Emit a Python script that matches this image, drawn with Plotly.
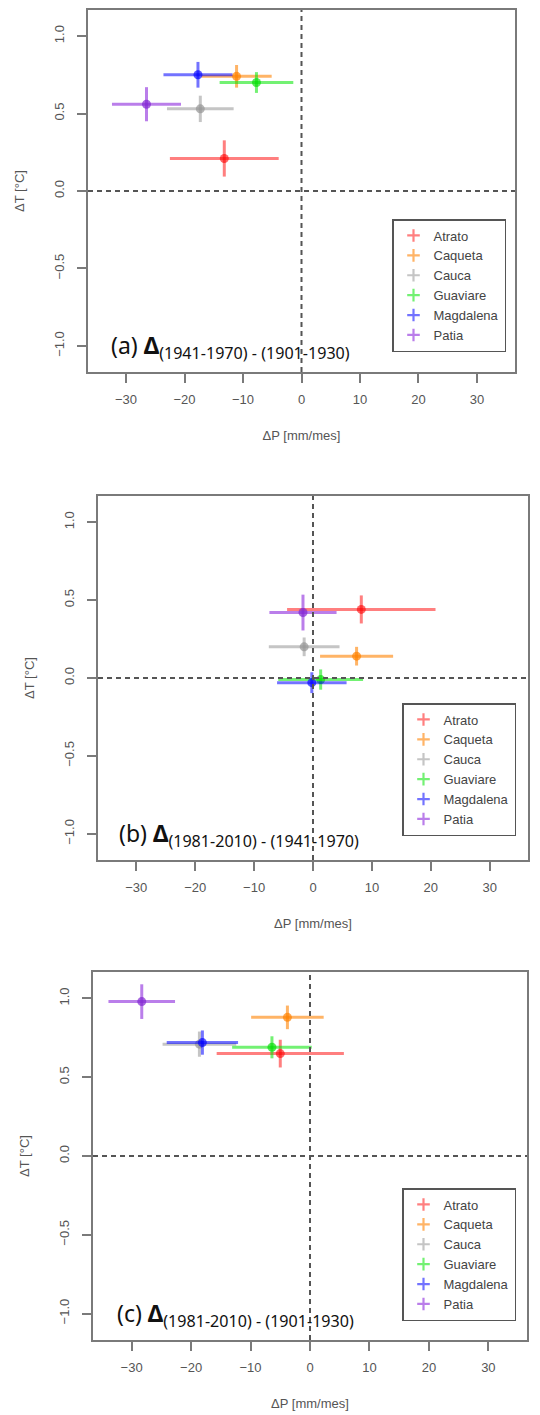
import plotly.graph_objects as go

W, H = 540, 1415

basins = ["Atrato", "Caqueta", "Cauca", "Guaviare", "Magdalena", "Patia"]
colors = ["rgba(255,0,0,0.5)", "rgba(255,130,0,0.6)", "rgba(150,150,150,0.55)",
          "rgba(0,230,0,0.55)", "rgba(0,0,255,0.55)", "rgba(140,40,220,0.6)"]
marker_colors = ["rgba(255,0,0,0.6)", "rgba(255,130,0,0.7)", "rgba(150,150,150,0.7)",
                 "rgba(0,220,0,0.65)", "rgba(0,0,255,0.65)", "rgba(130,40,210,0.7)"]

# Panel (a): (1941-1970) - (1901-1930)
dP_a = [-13.2, -11.1, -17.3, -7.7, -17.7, -26.5]
dT_a = [0.21, 0.74, 0.53, 0.70, 0.75, 0.56]
eP_a = [9.3, 6.0, 5.7, 6.3, 5.9, 5.9]
eT_a = [0.117, 0.073, 0.085, 0.067, 0.083, 0.11]

# Panel (b): (1981-2010) - (1941-1970)
dP_b = [8.2, 7.4, -1.5, 1.3, -0.2, -1.7]
dT_b = [0.44, 0.14, 0.20, -0.01, -0.03, 0.42]
eP_b = [12.6, 6.2, 6.0, 7.2, 5.9, 5.7]
eT_b = [0.09, 0.06, 0.06, 0.065, 0.067, 0.115]

# Panel (c): (1981-2010) - (1901-1930)
dP_c = [-5.0, -3.8, -18.6, -6.4, -18.1, -28.3]
dT_c = [0.65, 0.88, 0.71, 0.69, 0.72, 0.98]
eP_c = [10.7, 6.1, 6.2, 6.7, 6.0, 5.6]
eT_c = [0.088, 0.075, 0.08, 0.07, 0.077, 0.11]

panel_labels = ["(a)", "(b)", "(c)"]
panel_subs = ["(1941-1970) - (1901-1930)", "(1981-2010) - (1941-1970)", "(1981-2010) - (1901-1930)"]

x_ticks = [-30, -20, -10, 0, 10, 20, 30]
y_ticks = [-1.0, -0.5, 0.0, 0.5, 1.0]
y_ticktext = ["\u22121.0", "\u22120.5", "0.0", "0.5", "1.0"]
x_ticktext = ["\u221230", "\u221220", "\u221210", "0", "10", "20", "30"]

# pixel boxes of each panel: left, right, top, bottom
boxes = [(88, 515, 10, 372), (98, 528, 496, 860), (93, 527, 972, 1340)]
legend_pos = [(392, 219), (402, 703), (402, 1188)]
label_pos = [(109, 346), (117, 834), (115, 1314)]

def px(xp):
    return xp / W

def py(yp):
    return 1 - yp / H

fig = go.Figure()

panels = [(dP_a, dT_a, eP_a, eT_a), (dP_b, dT_b, eP_b, eT_b), (dP_c, dT_c, eP_c, eT_c)]
tick_font = dict(family="Liberation Sans, Arial", size=13, color="#555")
title_font = dict(family="Liberation Sans, Arial", size=13, color="#555")
axis_col = "#7a7a7a"

for k, (P, T, eP, eT) in enumerate(panels):
    sfx = "" if k == 0 else str(k + 1)
    xa, ya = "x" + sfx, "y" + sfx
    leg = "legend" + sfx
    for i, name in enumerate(basins):
        fig.add_trace(go.Scatter(
            x=[P[i]], y=[T[i]], mode="markers", xaxis=xa, yaxis=ya,
            marker=dict(size=9, color=marker_colors[i]),
            error_x=dict(type="data", array=[eP[i]], color=colors[i], thickness=3, width=0),
            error_y=dict(type="data", array=[eT[i]], color=colors[i], thickness=3, width=0),
            showlegend=False, name=name))
    for i, name in enumerate(basins):
        fig.add_trace(go.Scatter(
            x=[None], y=[None], mode="markers", xaxis=xa, yaxis=ya, name=name, legend=leg,
            marker=dict(symbol="cross-thin", size=9, color=colors[i],
                        line=dict(width=2.2, color=colors[i]))))
    l, r, t, b = boxes[k]
    fig.update_layout({
        "xaxis" + sfx: dict(domain=[px(l), px(r)], range=[-36.5, 36.5], anchor=ya,
                            tickmode="array", tickvals=x_ticks, ticktext=x_ticktext,
                            ticks="outside", ticklen=9, tickwidth=2, tickcolor=axis_col,
                            showline=True, linecolor=axis_col, linewidth=2, mirror=True,
                            showgrid=False, zeroline=False, tickfont=tick_font,
                            ticklabelstandoff=5,
                            title=dict(text="\u0394P [mm/mes]", font=title_font, standoff=25)),
        "yaxis" + sfx: dict(domain=[py(b), py(t)], range=[-1.168, 1.168], anchor=xa,
                            tickmode="array", tickvals=y_ticks, ticktext=y_ticktext, tickangle=-90,
                            ticks="outside", ticklen=9, tickwidth=2, tickcolor=axis_col,
                            showline=True, linecolor=axis_col, linewidth=2, mirror=True,
                            showgrid=False, zeroline=False, tickfont=tick_font,
                            ticklabelstandoff=8,
                            title=dict(text="\u0394T [\u00b0C]", font=title_font, standoff=24)),
        leg: dict(x=px(legend_pos[k][0]), y=py(legend_pos[k][1]), xanchor="left", yanchor="top",
                  xref="paper", yref="paper", bgcolor="white", bordercolor="#555", borderwidth=1.5,
                  font=dict(family="Liberation Sans, Arial", size=13, color="#444"),
                  itemwidth=30, tracegroupgap=0),
    })
    dash = dict(color="#555", width=2, dash="5px,4px")
    fig.add_shape(type="line", xref=xa, yref=ya + " domain", x0=0, x1=0, y0=0, y1=1, line=dash)
    fig.add_shape(type="line", xref=xa + " domain", yref=ya, x0=0, x1=1, y0=0, y1=0, line=dash)
    fig.add_annotation(xref="paper", yref="paper", x=px(label_pos[k][0]), y=py(label_pos[k][1]),
                       xanchor="left", yanchor="middle", showarrow=False,
                       text=panel_labels[k] + " <b>\u0394</b><sub>" + panel_subs[k] + "</sub>",
                       font=dict(family="Noto Sans, Open Sans", size=23, color="#111"))

fig.update_layout(width=W, height=H, margin=dict(l=0, r=0, t=0, b=0),
                  paper_bgcolor="white", plot_bgcolor="white")

fig.write_html("out.html", config={"displayModeBar": False},
               post_script="document.body.style.margin='0';")
